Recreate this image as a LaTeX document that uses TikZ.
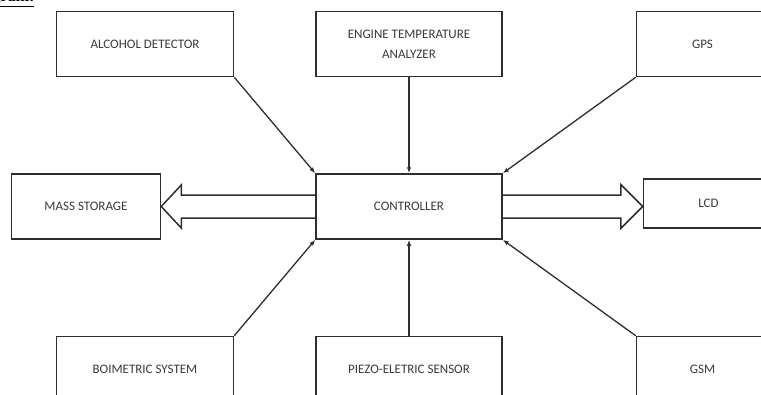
\documentclass[tikz,border=0pt]{standalone}
\usepackage{fontspec}
\setmainfont{Carlito}
\newfontfamily\headfont{Liberation Serif}
\usetikzlibrary{positioning, arrows.meta, calc}
\definecolor{edge}{HTML}{2E2E2E}
\definecolor{textmain}{HTML}{3A3A3A}

\begin{document}
\begin{tikzpicture}[
        x=1pt, y=-1pt,
        b/.style={rectangle, draw=edge, line width=1.5pt, fill=white, text=textmain,
                  font=\fontsize{13}{20}\selectfont, align=center,
                  minimum height=65pt, inner sep=0pt},
        link/.style={-{Latex[length=6pt,width=4.5pt]}, edge, line width=1.3pt},
        fat/.style={draw=edge, line width=1.5pt, line join=miter}
      ]
        \useasboundingbox (0,0) rectangle (761,394);
        \node[anchor=base east, font=\headfont\bfseries\fontsize{16}{18}\selectfont] (title) at (38,1) {\underline{Diagram:}};
        \node[b, minimum width=186pt] (ctrl) at (409,206.5) {CONTROLLER};
        \node[b, minimum width=186pt, above=96pt of ctrl] (eng) {ENGINE TEMPERATURE\\ANALYZER};
        \node[b, minimum width=177pt, left=81pt of eng] (alc) {ALCOHOL DETECTOR};
        \node[b, minimum width=132pt, right=133pt of eng] (gps) {GPS};
        \node[b, minimum width=149pt, left=154pt of ctrl] (mass) {MASS STORAGE};
        \node[b, minimum width=130pt, minimum height=49pt, right=140pt of ctrl, yshift=3pt] (lcd) {LCD};
        \node[b, minimum width=186pt, below=96pt of ctrl] (piezo) {PIEZO-ELETRIC SENSOR};
        \node[b, minimum width=177pt, left=81pt of piezo] (bio) {BOIMETRIC SYSTEM};
        \node[b, minimum width=132pt, right=133pt of piezo] (gsm) {GSM};
        \draw[link] (alc.south east) -- (ctrl.north west);
        \draw[link] (eng) -- (ctrl);
        \draw[link] (gps.south west) -- (ctrl.north east);
        \draw[link] (bio.north east) -- (ctrl.south west);
        \draw[link] (piezo) -- (ctrl);
        \draw[link] (gsm.north west) -- (ctrl.south east);
        % wide outputs
        \draw[fat] ($(ctrl.west)+(0,-11.5)$) -- ($(mass.east)+(20,-11.5)$) -- ($(mass.east)+(20,-21.5)$)
          -- (mass.east) -- ($(mass.east)+(20,21.5)$) -- ($(mass.east)+(20,11.5)$) -- ($(ctrl.west)+(0,11.5)$);
        \coordinate (tip) at (lcd.west |- ctrl.east);
        \draw[fat] ($(ctrl.east)+(0,-11.5)$) -- ($(tip)+(-22,-11.5)$) -- ($(tip)+(-22,-22)$)
          -- (tip) -- ($(tip)+(-22,22)$) -- ($(tip)+(-22,11.5)$) -- ($(ctrl.east)+(0,11.5)$);
      \end{tikzpicture}
\end{document}
